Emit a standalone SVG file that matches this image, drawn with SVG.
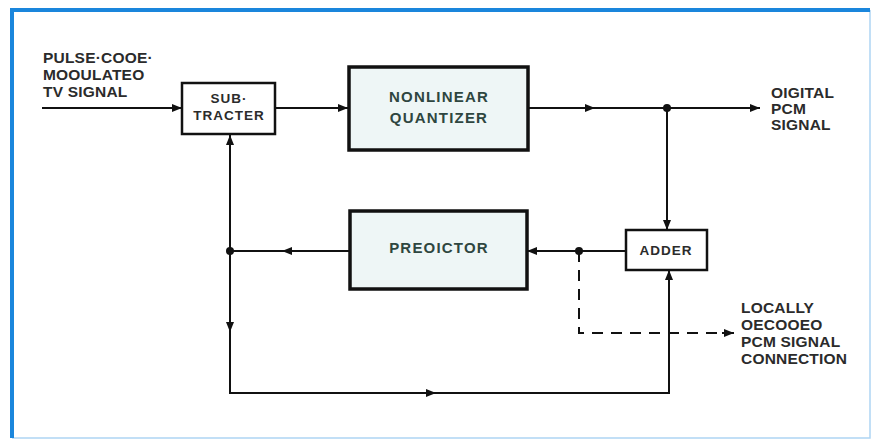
<svg xmlns="http://www.w3.org/2000/svg" width="872" height="440" viewBox="0 0 872 440">
<defs>
<style>
.frame{fill:none;stroke:#1a86dc}
.box{stroke:#111;stroke-width:2.5}
.shaded{fill:#eef6f6;stroke-width:3.5}
.plain{fill:#fff}
.line{fill:none;stroke:#111;stroke-width:2}
.dash{fill:none;stroke:#111;stroke-width:2;stroke-dasharray:11,8}
.dot{fill:#111}
text{font-family:"Liberation Sans",Arial,sans-serif;font-weight:bold;fill:#2b2b2b}
.lbl{font-size:15.5px;letter-spacing:0.2px}
.inbox{font-size:15px;letter-spacing:1.2px;text-anchor:middle;fill:#2e4640}
.small{font-size:13.5px;letter-spacing:1px;text-anchor:middle}
</style>
<marker id="ah" viewBox="0 0 10 8" refX="10" refY="4" markerWidth="11" markerHeight="8" orient="auto" markerUnits="userSpaceOnUse">
<path d="M0,0 L10,4 L0,8 z" fill="#111"/>
</marker>
</defs>
<rect width="872" height="440" fill="#fff"/>
<path class="frame" d="M12,438 V10 H870" stroke-width="4"/>
<path class="frame" d="M870,10 V438 H12" stroke-width="1.5" opacity="0.35"/>

<g id="subtracter">
<rect class="box plain" x="182" y="83" width="93" height="51"/>
<text class="small" x="229" y="103">SUB·</text>
<text class="small" x="229" y="120">TRACTER</text>
</g>
<g id="quantizer">
<rect class="box shaded" x="349" y="67" width="179" height="83"/>
<text class="inbox" x="439" y="102">NONLINEAR</text>
<text class="inbox" x="439" y="123">QUANTIZER</text>
</g>
<g id="predictor">
<rect class="box shaded" x="350" y="211" width="177" height="78"/>
<text class="inbox" x="439" y="253">PREOICTOR</text>
</g>
<g id="adder">
<rect class="box plain" x="626" y="230" width="81" height="40"/>
<text class="small" x="666" y="255">ADDER</text>
</g>
<g id="labels">
<text class="lbl" x="43" y="63">PULSE·COOE·</text>
<text class="lbl" x="43" y="80">MOOULATEO</text>
<text class="lbl" x="43" y="97">TV SIGNAL</text>
<text class="lbl" x="771" y="98">OIGITAL</text>
<text class="lbl" x="771" y="114">PCM</text>
<text class="lbl" x="771" y="130">SIGNAL</text>
<text class="lbl" x="741" y="313">LOCALLY</text>
<text class="lbl" x="741" y="330">OECOOEO</text>
<text class="lbl" x="741" y="347">PCM SIGNAL</text>
<text class="lbl" x="741" y="364">CONNECTION</text>
</g>
<g id="connectors">
<path class="line" d="M42,108 H182" marker-end="url(#ah)"/>
<path class="line" d="M275,108 H348" marker-end="url(#ah)"/>
<path class="line" d="M528,108 H595" marker-end="url(#ah)"/>
<path class="line" d="M595,108 H760" marker-end="url(#ah)"/>
<path class="line" d="M667,108 V230" marker-end="url(#ah)"/>
<path class="line" d="M626,251 H527" marker-end="url(#ah)"/>
<path class="line" d="M350,251 H282" marker-end="url(#ah)"/>
<path class="line" d="M282,251 H230"/>
<path class="line" d="M230,251 V135" marker-end="url(#ah)"/>
<path class="line" d="M230,251 V332" marker-end="url(#ah)"/>
<path class="line" d="M230,332 V393 H436" marker-end="url(#ah)"/>
<path class="line" d="M436,393 H669 V270" marker-end="url(#ah)"/>
<path class="dash" d="M579,251 V333 H722"/>
<path class="line" d="M722,333 H734" marker-end="url(#ah)"/>
<circle class="dot" cx="667" cy="108" r="4"/>
<circle class="dot" cx="230" cy="251" r="4"/>
<circle class="dot" cx="579" cy="251" r="4"/>
</g>
</svg>
